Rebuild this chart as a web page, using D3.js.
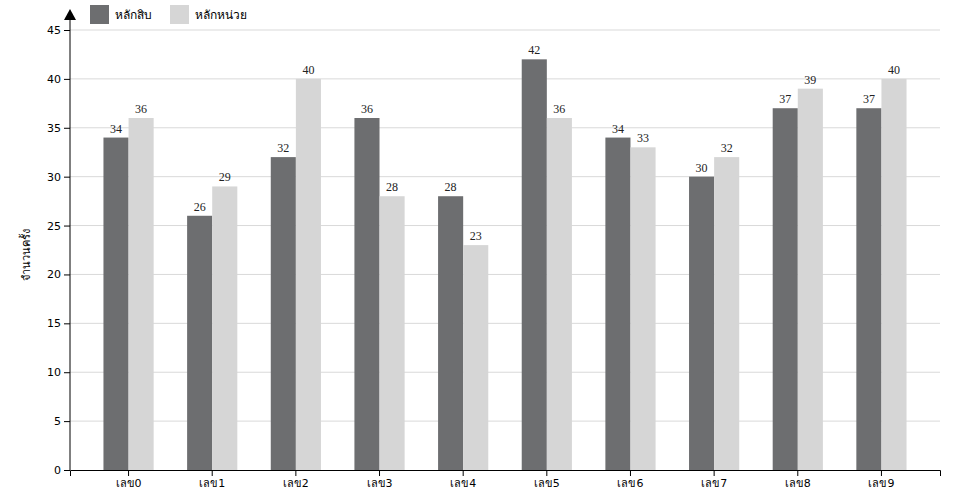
<!DOCTYPE html>
<html>
<head>
<meta charset="utf-8">
<script src="https://cdn.jsdelivr.net/npm/d3@7"></script>
<style>
  body { margin: 0; background: #fff; }
  .axis text { font-family: "DejaVu Sans", sans-serif; font-size: 11px; }
  .val { font-family: "Liberation Serif", "Times New Roman", serif; font-size: 12px; }
</style>
</head>
<body>
<div id="chart"></div>
<script>
// data
const categories = ["เลข0", "เลข1", "เลข2", "เลข3", "เลข4", "เลข5", "เลข6", "เลข7", "เลข8", "เลข9"];
const seriesNames = ["หลักสิบ", "หลักหน่วย"];
const tens = [34, 26, 32, 36, 28, 42, 34, 30, 37, 37];
const units = [36, 29, 40, 28, 23, 36, 33, 32, 39, 40];
const yTicks = [0, 5, 10, 15, 20, 25, 30, 35, 40, 45];
const colors = ["#6d6e70", "#d6d6d6"];

const width = 960, height = 500;
const margin = {top: 30, right: 20, bottom: 30, left: 70};

const svg = d3.select("#chart")
  .append("svg")
  .attr("width", width)
  .attr("height", height);

const x = d3.scaleBand()
  .domain(categories)
  .range([margin.left, width - margin.right])
  .padding(0.4);

const x1 = d3.scaleBand()
  .domain(seriesNames)
  .range([0, x.bandwidth()]);

const y = d3.scaleLinear()
  .domain([0, 45])
  .range([height - margin.bottom, margin.top]);

// grid
svg.append("g")
  .selectAll("line")
  .data(yTicks.filter(d => d > 0))
  .enter()
  .append("line")
  .attr("x1", margin.left)
  .attr("x2", width - margin.right)
  .attr("y1", d => y(d))
  .attr("y2", d => y(d))
  .attr("stroke", "#d9d9d9")
  .attr("stroke-width", 1);

const rows = categories.map((c, i) => ({cat: c, vals: [tens[i], units[i]]}));

const groups = svg.append("g")
  .selectAll("g")
  .data(rows)
  .enter()
  .append("g")
  .attr("transform", d => `translate(${x(d.cat)},0)`);

groups.selectAll("rect")
  .data(d => d.vals.map((v, j) => ({name: seriesNames[j], v: v, j: j})))
  .enter()
  .append("rect")
  .attr("x", d => x1(d.name))
  .attr("y", d => y(d.v))
  .attr("width", x1.bandwidth())
  .attr("height", d => y(0) - y(d.v))
  .attr("fill", d => colors[d.j]);

groups.selectAll("text")
  .data(d => d.vals.map((v, j) => ({name: seriesNames[j], v: v})))
  .enter()
  .append("text")
  .attr("class", "val")
  .attr("x", d => x1(d.name) + x1.bandwidth() / 2)
  .attr("y", d => y(d.v) - 5)
  .attr("text-anchor", "middle")
  .attr("fill", "#222")
  .text(d => d.v);

// axes
svg.append("g")
  .attr("class", "axis")
  .attr("transform", `translate(0,${y(0)})`)
  .call(d3.axisBottom(x).tickSizeOuter(6))
  .call(g => g.select(".domain").attr("stroke", "#000"));

svg.append("g")
  .attr("class", "axis")
  .attr("transform", `translate(${margin.left},0)`)
  .call(d3.axisLeft(y).tickValues(yTicks).tickSizeOuter(0))
  .call(g => g.select(".domain").remove());

// y axis line with arrow
svg.append("line")
  .attr("x1", margin.left).attr("x2", margin.left)
  .attr("y1", y(0)).attr("y2", 16)
  .attr("stroke", "#000");
svg.append("path")
  .attr("d", `M${margin.left},9 L${margin.left - 6},20 L${margin.left + 6},20 Z`)
  .attr("fill", "#000");

svg.append("text")
  .attr("transform", `translate(30,${(y(0) + y(45)) / 2 + 5}) rotate(-90)`)
  .attr("text-anchor", "middle")
  .style("font-family", "DejaVu Sans, sans-serif")
  .style("font-size", "11px")
  .text("จำนวนครั้ง");

// legend
const legend = svg.append("g")
  .selectAll("g")
  .data(seriesNames)
  .enter()
  .append("g")
  .attr("transform", (d, i) => `translate(${90 + i * 80},5)`);

legend.append("rect")
  .attr("width", 19)
  .attr("height", 19)
  .attr("fill", (d, i) => colors[i]);

legend.append("text")
  .attr("x", 25)
  .attr("y", 14)
  .style("font-family", "DejaVu Sans, sans-serif")
  .style("font-size", "12px")
  .text(d => d);
</script>
</body>
</html>
